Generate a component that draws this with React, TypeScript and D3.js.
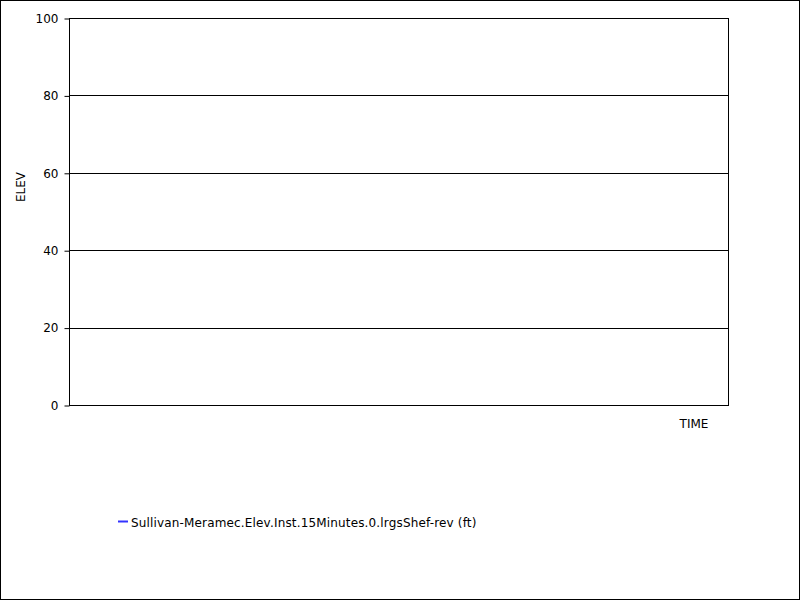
import React, { useEffect, useRef } from "react";
import * as d3 from "d3";

// chart values
const yTicks: number[] = [0, 20, 40, 60, 80, 100];
const seriesNames: string[] = ["Sullivan-Meramec.Elev.Inst.15Minutes.0.lrgsShef-rev (ft)"];
const seriesColors: string[] = ["#3333ff"];
const seriesTimes: Date[] = [];
const seriesValues: number[] = [];

const W = 800;
const H = 600;
const plot = { left: 69, right: 728, top: 18, bottom: 405 };

const App = () => {
  const ref = useRef<SVGSVGElement>(null);

  useEffect(() => {
    const svg = d3.select(ref.current);
    svg.selectAll("*").remove();

    const y = d3.scaleLinear().domain([0, 100]).range([plot.bottom, plot.top]);
    const x = d3.scaleTime().domain([new Date(2020, 0, 1), new Date(2020, 0, 2)]).range([plot.left, plot.right]);

    svg.append("rect")
      .attr("x", 0.5).attr("y", 0.5)
      .attr("width", W - 1).attr("height", H - 1)
      .attr("fill", "white").attr("stroke", "black");

    // grid lines
    svg.append("g")
      .selectAll("line")
      .data(yTicks)
      .enter()
      .append("line")
      .attr("x1", plot.left).attr("x2", plot.right)
      .attr("y1", d => Math.round(y(d)) + 0.5).attr("y2", d => Math.round(y(d)) + 0.5)
      .attr("stroke", "black");

    // plot frame
    svg.append("rect")
      .attr("x", plot.left + 0.5).attr("y", plot.top + 0.5)
      .attr("width", plot.right - plot.left).attr("height", plot.bottom - plot.top)
      .attr("fill", "none").attr("stroke", "black");

    const axis = d3.axisLeft(y).tickValues(yTicks).tickSize(5).tickPadding(6).tickFormat(d3.format("d"));
    const ag = svg.append("g")
      .attr("transform", `translate(${plot.left + 0.5},0.5)`)
      .call(axis as any);
    ag.select(".domain").remove();
    ag.selectAll("text")
      .attr("font-family", "DejaVu Sans")
      .attr("font-size", 12)
      .attr("fill", "black");

    // series (no data points)
    const line = d3.line<number>()
      .x((_, i) => x(seriesTimes[i]))
      .y(d => y(d));
    svg.append("path")
      .datum(seriesValues)
      .attr("d", line)
      .attr("fill", "none")
      .attr("stroke", seriesColors[0]);

    svg.append("text")
      .attr("transform", `translate(24.5,187) rotate(-90)`)
      .attr("text-anchor", "middle")
      .attr("font-family", "DejaVu Sans")
      .attr("font-size", 12)
      .text("ELEV");

    svg.append("text")
      .attr("x", 694).attr("y", 428)
      .attr("text-anchor", "middle")
      .attr("font-family", "DejaVu Sans")
      .attr("font-size", 12)
      .text("TIME");

    const lg = svg.append("g")
      .selectAll("g")
      .data(seriesNames)
      .enter()
      .append("g")
      .attr("transform", (_, i) => `translate(118,${521 + i * 16})`);
    lg.append("line")
      .attr("x1", 0).attr("x2", 10).attr("y1", 0.5).attr("y2", 0.5)
      .attr("stroke", (_, i) => seriesColors[i]).attr("stroke-width", 2);
    lg.append("text")
      .attr("x", 13).attr("y", 5.5)
      .attr("font-family", "DejaVu Sans")
      .attr("font-size", 12)
      .attr("letter-spacing", 0.16)
      .text(d => d);
  }, []);

  return (
    <svg ref={ref} width={W} height={H} style={{ position: "absolute", left: 0, top: 0 }} />
  );
};

export default App;
